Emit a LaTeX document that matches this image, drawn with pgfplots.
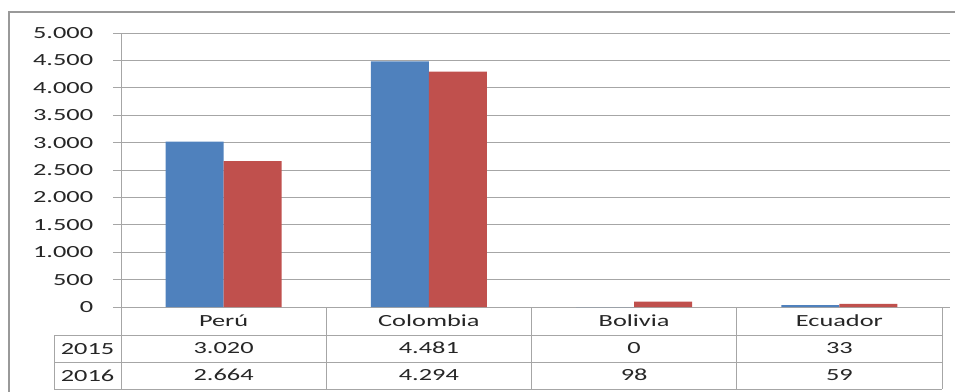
\documentclass[border=0pt]{standalone}
\usepackage{pgfplots}
\pgfplotsset{compat=1.18}
\usepackage{fontspec}
\setmainfont{Carlito}[FakeStretch=1.55]
\definecolor{sblue}{HTML}{4F81BD}
\definecolor{sred}{HTML}{C0504D}
\definecolor{gridc}{HTML}{A6A6A6}
\begin{document}
\begin{tikzpicture}[x=1pt,y=1pt]
\fontsize{17}{27}\selectfont
\useasboundingbox (0,0) rectangle (955,-391);
\draw[gray!80,line width=1.5pt] (9,-12) rectangle (990,-430);
\begin{axis}[at={(121pt,-307pt)}, anchor=south west, scale only axis,
  width=821pt, height=274pt,
  ybar=0pt, bar width=58pt,
  xmin=-0.5, xmax=3.5, ymin=0, ymax=5000,
  axis line style={draw=none},
  ymajorgrids, grid style={gridc, line width=1pt},
  ytick={0,500,...,5000}, tick align=outside, major tick length=8pt,
  ytick style={gridc, line width=1pt},
  scaled y ticks=false,
  /pgf/number format/1000 sep={.},
  /pgf/number format/assume math mode=true,
  yticklabel style={font=\fontsize{17}{20}\selectfont, text=black!85, xshift=-14pt},
  xtick={0,1,2,3},
  xticklabels={Perú\\3.020\\2.664, Colombia\\4.481\\4.294, Bolivia\\0\\98, Ecuador\\33\\59},
  xticklabel style={align=center, anchor=north, yshift=6pt, font=\fontsize{17}{27}\selectfont, text=black!85},
  major x tick style={draw=none},
]
\addplot[fill=sblue, draw=none] coordinates {(0,3020) (1,4481) (2,0) (3,33)};
\addplot[fill=sred, draw=none] coordinates {(0,2664) (1,4294) (2,98) (3,59)};
\end{axis}
\begin{scope}[gridc, line width=1pt]
\draw (54,-335) -- (942,-335);
\draw (54,-362) -- (942,-362);
\draw (54,-389) -- (942,-389);
\draw (54,-335) -- (54,-389);
\draw (121,-33) -- (121,-389);
\draw (326.25,-307) -- (326.25,-389);
\draw (531.5,-307) -- (531.5,-389);
\draw (736.75,-307) -- (736.75,-389);
\draw (942,-307) -- (942,-389);
\end{scope}
\node[anchor=base, text=black!85] at (87.5,-354) {2015};
\node[anchor=base, text=black!85] at (87.5,-381) {2016};
\end{tikzpicture}
\end{document}
